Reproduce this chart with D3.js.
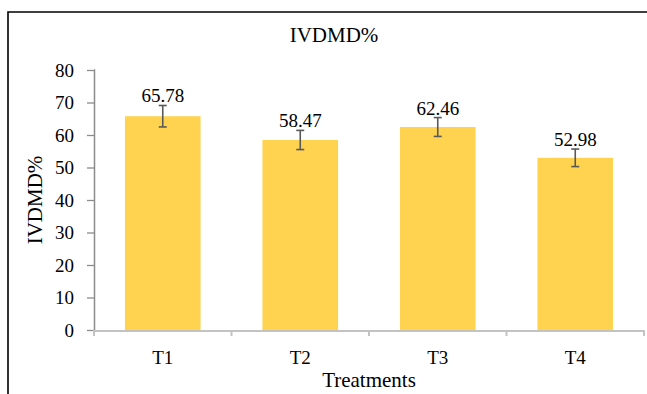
<!DOCTYPE html>
<html>
<head>
<meta charset="utf-8">
<script src="https://cdn.jsdelivr.net/npm/d3@7"></script>
<style>
  html, body { margin: 0; padding: 0; background: #fff; }
  svg { display: block; }
  svg text { font-family: "Liberation Serif", "Times New Roman", serif !important; fill: #000; }
</style>
</head>
<body>
<svg id="chart" width="647" height="394"></svg>
<script>
const categories = ["T1", "T2", "T3", "T4"];
const values = [65.78, 58.47, 62.46, 52.98];
const errors = [3.3, 2.95, 2.9, 2.7];
const yTicks = [0, 10, 20, 30, 40, 50, 60, 70, 80];
const chartTitle = "IVDMD%";
const yTitle = "IVDMD%";
const xTitle = "Treatments";

const FONT = "Liberation Serif, Times New Roman, serif";
const svg = d3.select("#chart").attr("font-family", FONT);
const W = 647, H = 394;
const plot = { left: 94, right: 644, top: 70, bottom: 330 };

// frame (left and top edges visible)
svg.append("path")
  .attr("d", `M8,${H} L8,12 L${W},12`)
  .attr("fill", "none").attr("stroke", "#000").attr("stroke-width", 1.6);

const x = d3.scaleBand().domain(categories).range([plot.left, plot.right]).paddingInner(0.45).paddingOuter(0.225);
const y = d3.scaleLinear().domain([0, 80]).range([plot.bottom, plot.top]);

// bars
svg.append("g").selectAll("rect").data(categories).join("rect")
  .attr("x", d => x(d))
  .attr("width", x.bandwidth())
  .attr("y", (d, i) => y(values[i]))
  .attr("height", (d, i) => y(0) - y(values[i]))
  .attr("fill", "#FFD34F");

// y axis
const yAxis = svg.append("g").attr("transform", `translate(${plot.left},0)`)
  .call(d3.axisLeft(y).tickValues(yTicks).tickSize(7).tickPadding(13).tickFormat(d3.format("d")));
yAxis.attr("font-family", FONT);
yAxis.select(".domain").attr("stroke", "#8c8c8c").attr("stroke-width", 1.5).attr("d", `M0,${plot.top}H0.5V${plot.bottom}`);
yAxis.selectAll(".tick line").attr("stroke", "#8c8c8c").attr("stroke-width", 1.3);
yAxis.selectAll(".tick text").attr("font-size", 19).attr("font-family", FONT).attr("fill", "#000");

// x axis with ticks between categories
const bounds = [plot.left].concat(categories.map(c => x(c) + x.bandwidth() + x.step() * x.paddingInner() / 2));
bounds[bounds.length - 1] = plot.right;
const xg = svg.append("g").attr("font-family", FONT);
xg.append("line").attr("x1", plot.left).attr("x2", plot.right).attr("y1", plot.bottom + 1).attr("y2", plot.bottom + 1)
  .attr("stroke", "#c3c3c3").attr("stroke-width", 2);
xg.selectAll("line.tk").data(bounds).join("line").attr("class", "tk")
  .attr("x1", d => d).attr("x2", d => d).attr("y1", plot.bottom).attr("y2", plot.bottom + 6)
  .attr("stroke", "#c3c3c3").attr("stroke-width", 2);
xg.selectAll("text").data(categories).join("text")
  .attr("x", d => x(d) + x.bandwidth() / 2).attr("y", 364)
  .attr("text-anchor", "middle").attr("font-size", 19).attr("font-family", FONT).text(d => d);

// error bars
const eb = svg.append("g").attr("stroke", "#595959").attr("stroke-width", 1.6);
categories.forEach((c, i) => {
  const cx = x(c) + x.bandwidth() / 2;
  const y1 = y(values[i] + errors[i]), y2 = y(values[i] - errors[i]);
  eb.append("line").attr("x1", cx).attr("x2", cx).attr("y1", y1).attr("y2", y2);
  eb.append("line").attr("x1", cx - 4).attr("x2", cx + 4).attr("y1", y1).attr("y2", y1);
  eb.append("line").attr("x1", cx - 4).attr("x2", cx + 4).attr("y1", y2).attr("y2", y2);
});

// value labels
svg.append("g").selectAll("text").data(categories).join("text")
  .attr("x", d => x(d) + x.bandwidth() / 2)
  .attr("y", (d, i) => y(values[i] + errors[i]) - 3)
  .attr("text-anchor", "middle").attr("font-size", 19).attr("font-family", FONT)
  .text((d, i) => values[i].toFixed(2));

// titles
svg.append("text").attr("x", 334).attr("y", 42).attr("text-anchor", "middle").attr("font-size", 21).attr("font-family", FONT).text(chartTitle);
svg.append("text").attr("transform", `translate(42,${(plot.top + plot.bottom) / 2}) rotate(-90)`)
  .attr("text-anchor", "middle").attr("font-size", 21).attr("font-family", FONT).text(yTitle);
svg.append("text").attr("x", 369).attr("y", 387).attr("text-anchor", "middle").attr("font-size", 21).attr("font-family", FONT).text(xTitle);
</script>
</body>
</html>
